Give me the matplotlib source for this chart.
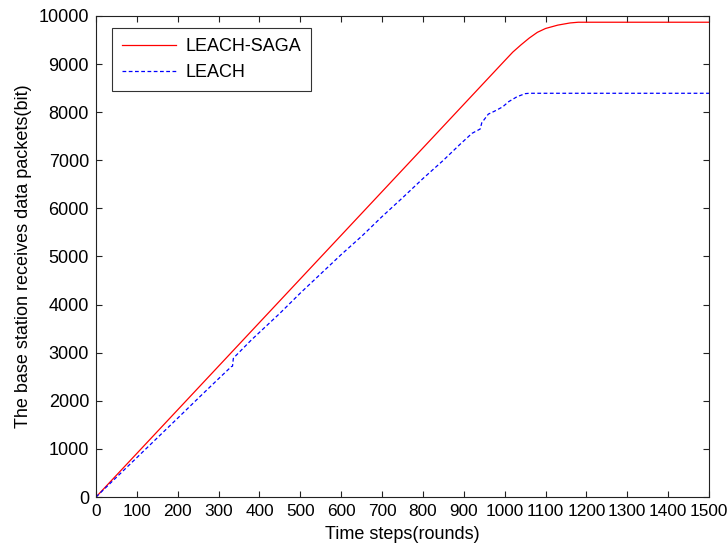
"""LEACH vs LEACH-SAGA — 기지국 수신 데이터 패킷"""

import matplotlib
matplotlib.use("Agg")
import matplotlib.pyplot as plt

# 그림에서 읽은 값
saga_rounds = [0, 200, 400, 600, 800, 1000, 1020, 1040, 1060, 1080, 1100, 1130, 1160, 1180, 1500]
saga_bits   = [0, 1814, 3628, 5442, 7256, 9070, 9250, 9400, 9540, 9660, 9740, 9810, 9855, 9870, 9870]

leach_rounds = [0, 100, 200, 254, 300, 331, 334, 336, 340, 380, 450, 500, 560, 600, 650, 700,
                750, 800, 850, 889, 920, 940, 944, 960, 975, 995, 1010, 1030, 1050, 1060, 1500]
leach_bits   = [0, 820, 1640, 2085, 2460, 2710, 2720, 2880, 2920, 3264, 3820, 4240, 4720, 5040,
                5420, 5830, 6220, 6620, 7000, 7318, 7560, 7650, 7780, 7960, 8020, 8110, 8220,
                8320, 8385, 8393, 8393]

x_ticks = list(range(0, 1501, 100))
y_ticks = list(range(0, 10001, 1000))

plt.rcParams["font.family"] = ["Liberation Sans", "DejaVu Sans"]
FS = 13

fig = plt.figure(figsize=(7.28, 5.49), dpi=100)
ax = fig.add_axes([0.1319, 0.0947, 0.8420, 0.8762])

ax.plot(saga_rounds, saga_bits, color="#ff0000", lw=0.9, label="LEACH-SAGA")
ax.plot(leach_rounds, leach_bits, color="#0000ff", lw=0.9, ls=(0, (3, 2)), label="LEACH")

ax.set_xlim(0, 1500)
ax.set_ylim(0, 10000)
ax.set_xticks(x_ticks)
ax.set_yticks(y_ticks)
ax.tick_params(direction="in", length=4, width=0.8, top=True, right=True,
               labelsize=FS, pad=5, colors="#222222", labelcolor="black")
ax.tick_params(axis="x", labelsize=12.4)
for s in ax.spines.values():
    s.set_linewidth(0.8)
    s.set_color("#222222")

ax.set_xlabel("Time steps(rounds)", fontsize=FS, labelpad=5)
ax.set_ylabel("The base station receives data packets(bit)", fontsize=FS, labelpad=5)

leg = ax.legend(loc="upper left", bbox_to_anchor=(0.026, 0.975), fontsize=FS,
                frameon=True, fancybox=False, edgecolor="black", handlelength=3.0,
                borderpad=0.55, labelspacing=0.5, handletextpad=0.5, borderaxespad=0)
leg.get_frame().set_linewidth(0.8)

fig.savefig("out.png", dpi=100)
